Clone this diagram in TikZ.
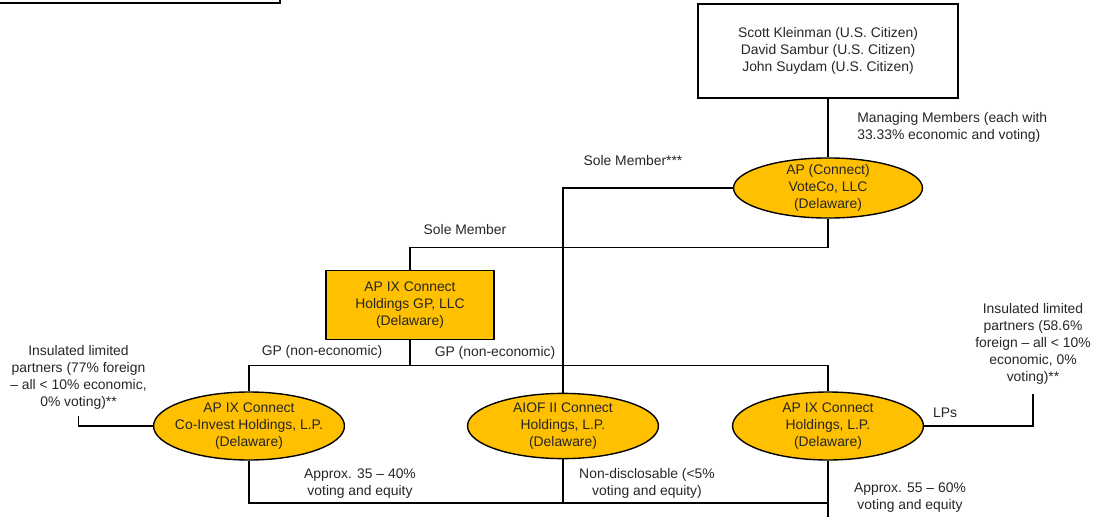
\documentclass[tikz,border=0pt]{standalone}
\usepackage{fontspec}
\setmainfont{Liberation Sans}
\usetikzlibrary{shapes,arrows,positioning}
\definecolor{apgold}{HTML}{FFC000}

\begin{document}
\begin{tikzpicture}[x=0.0253cm,y=-0.0253cm]
		\tikzstyle{Txt}		= [font=\fontsize{10}{12.2}\selectfont, text=black!85, align=center, inner sep=0pt]
		\tikzstyle{Entity}	= [Txt, ellipse, draw, line width=1pt, fill=apgold, minimum width=4.83cm, minimum height=1.72cm, inner xsep=-8pt, inner ysep=-2pt]
		\tikzstyle{Box}		= [Txt, rectangle, draw, line width=1pt]
		\tikzstyle{GPBox}	= [Box, fill=apgold]
		\tikzstyle{Link}	= [line width=1pt, black]

		\useasboundingbox (0,0) rectangle (1097,516);

		\node (topbox) at (137.5,-28.5) [Box, minimum width=7.21cm, minimum height=1.59cm] {};
		\node (people) at (828,51) [Box, minimum width=6.58cm, minimum height=2.38cm] {Scott Kleinman (U.S. Citizen)\\David Sambur (U.S. Citizen)\\John Suydam (U.S. Citizen)};
		\node (voteco) at (828,188) [Entity, minimum width=4.78cm, minimum height=1.52cm] {AP (Connect)\\VoteCo, LLC\\(Delaware)};
		\node (gp) at (410,305) [GPBox, minimum width=4.25cm, minimum height=1.75cm] {AP IX Connect\\Holdings GP, LLC\\(Delaware)};
		\node (coinvest) at (249,426) [Entity] {AP IX Connect\\Co-Invest Holdings, L.P.\\(Delaware)};
		\node (aiof) at (563,426) [Entity, minimum height=1.65cm] {AIOF II Connect\\Holdings, L.P.\\(Delaware)};
		\node (apix) at (828,426) [Entity] {AP IX Connect\\Holdings, L.P.\\(Delaware)};
		\node (lpl) at (78.5,377) [Txt, inner ysep=5pt] {Insulated limited\\partners (77\% foreign\\– all < 10\% economic,\\0\% voting)**};
		\node (lpr) at (1033,344) [Txt, inner ysep=7pt] {Insulated limited\\partners (58.6\%\\foreign – all < 10\%\\economic, 0\%\\voting)**};
		\coordinate (botjoin) at (828,503);
		\coordinate (below) at (828,540);

		\node (mm) at (857,127) [Txt, anchor=west, align=left] {Managing Members (each with\\33.33\% economic and voting)};
		\node (solestar) at (633,161) [Txt] {Sole Member***};
		\node (sole) at (465,230) [Txt] {Sole Member};
		\node (gpl) at (322,352) [Txt] {GP (non-economic)};
		\node (gpr) at (495,353) [Txt] {GP (non-economic)};
		\node (lps) at (945,413) [Txt] {LPs};
		\node (pctl) at (360,484) [Txt] {Approx. 35 – 40\%\\voting and equity};
		\node (pctm) at (647,483) [Txt] {Non-disclosable (<5\%\\voting and equity)};
		\node (pctr) at (910,498) [Txt] {Approx. 55 – 60\%\\voting and equity};

		\draw [-] (people) to (voteco) [Link];
		\draw [-] (voteco) -| (aiof) [Link];
		\draw [-] (voteco.south) -- ++(0,29) -| (gp.north) [Link];
		\draw [-] (gp.south) -- ++(0,25) -| (coinvest) [Link];
		\draw [-] (gp.south) -- ++(0,25) -| (apix) [Link];
		\draw [-] (coinvest) -| (lpl) [Link];
		\draw [-] (apix) -| (lpr) [Link];
		\draw [-] (coinvest) |- (botjoin) [Link];
		\draw [-] (aiof) |- (botjoin) [Link];
		\draw [-] (apix) to (below) [Link];
	\end{tikzpicture}
\end{document}
